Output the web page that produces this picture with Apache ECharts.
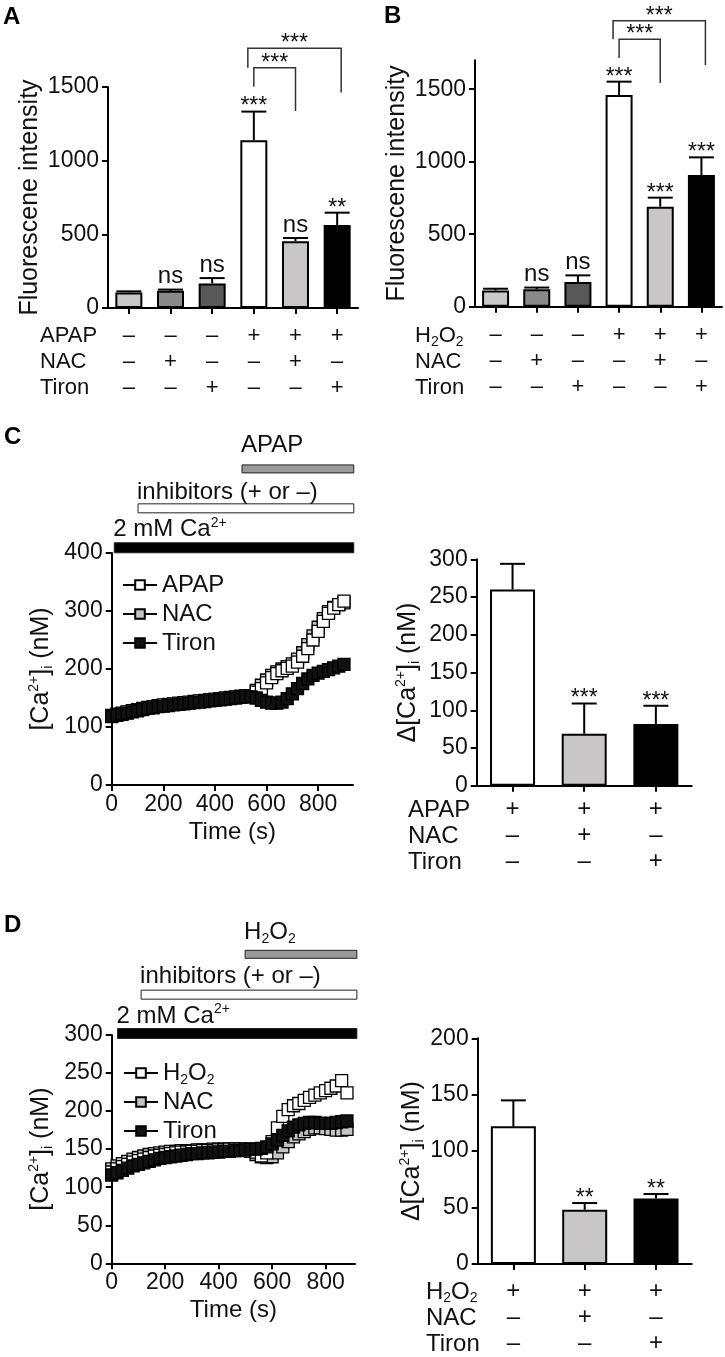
<!DOCTYPE html>
<html><head><meta charset="utf-8">
<script src="https://cdn.jsdelivr.net/npm/echarts@6/dist/echarts.min.js"></script>
<style>html,body{margin:0;padding:0;background:#fff}#c{width:725px;height:1357px}</style>
</head><body><div id="c"></div>
<script>
// ---------------- DATA ----------------
const catsAB = ['1','2','3','4','5','6'];
const aMeans = [105, 117, 167, 1138, 453, 563];
const aErrs  = [8, 8, 36, 195, 22, 84];
const aSig   = ['', 'ns', 'ns', '***', 'ns', '**'];
const bMeans = [112, 120, 170, 1460, 690, 908];
const bErrs  = [12, 12, 46, 92, 62, 122];
const bSig   = ['', 'ns', 'ns', '***', '***', '***'];
const rowDrug6  = ['–','–','–','+','+','+'];
const rowNAC6   = ['–','+','–','–','+','–'];
const rowTiron6 = ['–','–','+','–','–','+'];
// [fromBar, toBar, topValue, leftLegEnd, rightLegEnd]
const aBrackets = [[3,5,1763,1631,1462],[3,4,1631,1502,1337]];
const aBracketSig = ['***','***'];
const bBrackets = [[3,5,1972,1844,1667],[3,4,1844,1715,1543]];
const bBracketSig = ['***','***'];
const fluorTicks = [0,500,1000,1500];

const timeC = [0,20,40,60,80,100,120,140,160,180,200,220,240,260,280,300,320,340,360,380,400,420,440,460,480,500,520,540,560,580,600,620,640,660,680,700,720,740,760,780,800,820,840,860,880,900];
const apapC = [120,122,124,126,128,130,132,134,135,137,138,139,140,141,142,143,144,145,146,147,148,149,150,151,152,153,154,154,160,166,176,185,192,197,201,205,212,222,235,250,265,282,296,305,311,317];
const nacC  = [119,121,123,125,127,129,131,133,134,136,137,138,139,140,141,142,143,144,145,146,147,148,149,150,151,152,153,153,163,172,181,189,195,200,204,209,217,228,242,257,272,287,299,306,311,314];
const tironC= [118,120,122,124,126,128,130,132,133,135,136,137,138,139,140,141,142,143,144,145,146,147,148,149,150,151,152,152,150,146,143,141,141,143,149,157,166,175,183,189,193,196,199,202,205,208];
const timeTicks = [0,200,400,600,800];

const timeD = [0,20,40,60,80,100,120,140,160,180,200,220,240,260,280,300,320,340,360,380,400,420,440,460,480,500,520,540,560,580,600,620,640,660,680,700,720,740,760,780,800,820,840,860,880];
const h2o2D = [120,124,127,130,133,135,137,139,141,142,143,144,145,146,146,147,147,148,148,148,149,149,150,150,150,150,150,146,141,145,160,178,193,202,207,210,214,218,221,224,227,230,233,240,224];
const nacD  = [124,128,131,134,137,139,141,143,144,145,146,147,147,148,148,148,149,149,149,150,150,150,150,150,150,149,147,143,140,139,140,145,153,160,166,170,173,176,178,178,177,176,175,175,176];
const tironD= [116,119,122,125,128,130,132,134,136,138,139,140,141,142,143,144,144,145,145,146,146,147,147,148,148,149,150,150,151,153,157,162,168,174,179,182,184,185,185,184,184,184,185,186,187];

// condition bars above traces: [start s, end s, level, label level]
const cCond = [[10,938,409,440],[102,938,477,505],[505,938,545,586]];
const cCondLabels = ['2 mM Ca{sup|2+}','inhibitors (+ or –)','APAP'];
const dCond = [[22,917,302,325],[110,917,353,377],[499,917,406,435]];
const dCondLabels = ['2 mM Ca{sup|2+}','inhibitors (+ or –)','H{sub|2}O{sub|2}'];

const cats3 = ['1','2','3'];
const cMeans = [260, 69, 82];
const cErrs  = [34, 40, 24];
const cSig   = ['', '***', '***'];
const dMeans = [122, 48, 58];
const dErrs  = [23, 6, 4];
const dSig   = ['', '**', '**'];
const rowDrug3  = ['+','+','+'];
const rowNAC3   = ['–','+','–'];
const rowTiron3 = ['–','–','+'];

// ---------------- STYLE ----------------
const FONT = '"Liberation Sans", Arial, Helvetica, sans-serif';
const INK = '#111';
const colors6 = ['#c9c9c9','#8a8a8a','#585858','#ffffff','#c8c6c6','#000000'];
const colors3 = ['#ffffff','#c8c6c6','#000000'];
const condFills = ['#000000','#ffffff','#9a9a9a'];
const condHeights = [10, 9, 8];
const richSS = {
  sup:{fontSize:14, lineHeight:14, verticalAlign:'top', fontFamily:FONT, color:INK},
  sub:{fontSize:14, lineHeight:14, verticalAlign:'bottom', fontFamily:FONT, color:INK}
};

const chart = echarts.init(document.getElementById('c'), null, {renderer:'canvas'});

const axLine = {show:true, onZero:false, lineStyle:{color:'#000', width:2}};
const axTick = {show:true, length:6, lineStyle:{color:'#000', width:2}};

function catX(gi, cats, rows, fs, lh, margin) {
  return {type:'category', gridIndex:gi, data:cats, axisLine:axLine,
    axisTick:Object.assign({}, axTick, {alignWithLabel:true}),
    axisLabel:{interval:0, margin:margin, fontSize:fs, lineHeight:lh, color:INK, fontFamily:FONT,
      formatter:(v,i)=>rows.map(r=>r[i]).join('\n')},
    splitLine:{show:false}};
}
function valY(gi, min, max, interval, ticks, name, gap, fs) {
  const y = {type:'value', gridIndex:gi, min, max, interval, axisLine:axLine, axisTick:Object.assign({}, axTick),
    axisLabel:{margin:9, fontSize:fs, color:INK, fontFamily:FONT, formatter:v=>String(v)},
    splitLine:{show:false}, name:name, nameLocation:'middle', nameRotate:90, nameGap:gap,
    nameTextStyle:{fontSize:25, lineHeight:28, color:INK, fontFamily:FONT, rich:richSS}};
  if (ticks) { y.axisLabel.customValues = ticks; y.axisTick.customValues = ticks; }
  return y;
}
function valX(gi, max, ticks) {
  return {type:'value', gridIndex:gi, min:0, max, interval:200, axisLine:axLine,
    axisTick:Object.assign({}, axTick, {customValues:ticks}),
    axisLabel:{customValues:ticks, margin:8, fontSize:23, color:INK, fontFamily:FONT,
      formatter:v=>(ticks.indexOf(v)>=0? String(v):'')},
    splitLine:{show:false}, name:'Time (s)', nameLocation:'middle', nameGap:35,
    nameTextStyle:{fontSize:24, color:INK, fontFamily:FONT}};
}

function makeErr(sigs, capW) {
  return function(params, api) {
    const i = api.value(0), m = api.value(1), e = api.value(2);
    const p0 = api.coord([i, m]), p1 = api.coord([i, m + e]);
    const ch = [
      {type:'line', shape:{x1:p0[0], y1:p0[1], x2:p1[0], y2:p1[1]}, style:{stroke:'#000', lineWidth:2}},
      {type:'line', shape:{x1:p1[0]-capW/2, y1:p1[1], x2:p1[0]+capW/2, y2:p1[1]}, style:{stroke:'#000', lineWidth:2}}
    ];
    const s = sigs[params.dataIndex];
    if (s) {
      const star = s.indexOf('*') >= 0;
      ch.push({type:'text', style:{text:s, x:p1[0], y: star ? p1[1]+7 : p1[1]-1,
        align:'center', verticalAlign:'bottom', fontSize: star?23:24, fontFamily:FONT, fill:INK}});
    }
    return {type:'group', children:ch};
  };
}
function makeBracket(sigs) {
  return function(params, api) {
    const f = api.value(0), t = api.value(1), top = api.value(2), le = api.value(3), re = api.value(4);
    const outer = (t - f) > 1;
    const pL = api.coord([f, top]), pR = api.coord([t, top]);
    const yL = api.coord([f, le])[1], yR = api.coord([t, re])[1];
    const xL = pL[0] + (outer ? -6 : 0), xR = pR[0] + (outer ? 4 : 0);
    return {type:'group', children:[
      {type:'polyline', shape:{points:[[xL,yL],[xL,pL[1]],[xR,pL[1]],[xR,yR]]}, style:{stroke:'#333', lineWidth:1.5, fill:null}},
      {type:'text', style:{text:sigs[params.dataIndex], x:(xL+xR)/2, y:pL[1]+7, align:'center', verticalAlign:'bottom', fontSize:23, fontFamily:FONT, fill:INK}}
    ]};
  };
}
function makeCond(labels) {
  return function(params, api) {
    const k = params.dataIndex;
    const s = api.value(0), e = api.value(1), lv = api.value(2), tl = api.value(3);
    const p0 = api.coord([s, lv]), p1 = api.coord([e, lv]);
    const ty = api.coord([s, tl])[1];
    const h = condHeights[k];
    return {type:'group', children:[
      {type:'rect', shape:{x:p0[0], y:p0[1]-h/2, width:p1[0]-p0[0], height:h}, style:{fill:condFills[k], stroke:'#222', lineWidth:1}},
      {type:'text', style:{text:labels[k], x:p0[0]-1, y:ty, align:'left', verticalAlign:'middle', fontSize:24, lineHeight:28, fontFamily:FONT, fill:INK, rich:richSS}}
    ]};
  };
}
function barSeries(xi, means, cols, w) {
  return {type:'bar', xAxisIndex:xi, yAxisIndex:xi, barWidth:w, z:2,
    data:means.map((m,i)=>({value:m, itemStyle:{color:cols[i], borderColor:'#000', borderWidth:2}}))};
}
function errSeries(xi, means, errs, sigs) {
  return {type:'custom', xAxisIndex:xi, yAxisIndex:xi, z:3, renderItem:makeErr(sigs, 25),
    data:means.map((m,i)=>[i, m, errs[i]])};
}
function lineSeries(name, xi, times, vals, fill, z) {
  return {type:'line', name, xAxisIndex:xi, yAxisIndex:xi, z, symbol:'rect', symbolSize:12, showSymbol:true,
    data:times.map((t,i)=>[t, vals[i]]),
    itemStyle:{color:fill, borderColor:'#000', borderWidth:1.3},
    lineStyle:{color:'#000', width:2}};
}

const option = {
  animation:false,
  textStyle:{fontFamily:FONT},
  grid:[
    {left:108, top:87, width:250, height:221},
    {left:475, top:60.2, width:247, height:246.5},
    {left:111.7, top:553, width:241.3, height:232},
    {left:476.7, top:559.3, width:215, height:226.5},
    {left:111.7, top:1035, width:243.3, height:228.3},
    {left:477.7, top:1038.3, width:214, height:225.7}
  ],
  xAxis:[
    catX(0, catsAB, [rowDrug6,rowNAC6,rowTiron6], 22, 26, 15),
    catX(1, catsAB, [rowDrug6,rowNAC6,rowTiron6], 22, 26, 15),
    valX(2, 935, timeTicks),
    catX(3, cats3, [rowDrug3,rowNAC3,rowTiron3], 24, 26, 11),
    valX(4, 910, timeTicks),
    catX(5, cats3, [rowDrug3,rowNAC3,rowTiron3], 24, 26, 14)
  ],
  yAxis:[
    valY(0, 0, 1500, 500, null, 'Fluorescene intensity', 54, 23),
    valY(1, 0, 1700, 500, fluorTicks, 'Fluorescene intensity', 53, 23),
    valY(2, 0, 400, 100, null, '[Ca{sup|2+}]{sub|i} (nM)', 57, 23),
    valY(3, 0, 300, 50, null, 'Δ[Ca{sup|2+}]{sub|i} (nM)', 55, 23),
    valY(4, 0, 300, 50, null, '[Ca{sup|2+}]{sub|i} (nM)', 57, 23),
    valY(5, 0, 200, 50, null, 'Δ[Ca{sup|2+}]{sub|i} (nM)', 50, 23)
  ],
  legend:[
    {orient:'vertical', left:117, top:566, itemWidth:34, itemHeight:12, itemGap:1,
      data:['APAP','NAC','Tiron'], selectedMode:false,
      textStyle:{fontSize:24, lineHeight:28, color:INK, fontFamily:FONT}},
    {orient:'vertical', left:118, top:1054, itemWidth:34, itemHeight:12, itemGap:1,
      data:['H2O2','NAC','Tiron'], selectedMode:false,
      formatter:n=>n==='H2O2'?'H{sub|2}O{sub|2}':n,
      textStyle:{fontSize:24, lineHeight:28, color:INK, fontFamily:FONT, rich:richSS}}
  ],
  series:[
    barSeries(0, aMeans, colors6, 27), errSeries(0, aMeans, aErrs, aSig),
    {type:'custom', xAxisIndex:0, yAxisIndex:0, z:4, renderItem:makeBracket(aBracketSig), data:aBrackets},
    barSeries(1, bMeans, colors6, 27), errSeries(1, bMeans, bErrs, bSig),
    {type:'custom', xAxisIndex:1, yAxisIndex:1, z:4, renderItem:makeBracket(bBracketSig), data:bBrackets},
    lineSeries('NAC', 2, timeC, nacC, '#c4c4c4', 2),
    lineSeries('APAP', 2, timeC, apapC, '#ffffff', 3),
    lineSeries('Tiron', 2, timeC, tironC, '#111111', 4),
    {type:'custom', xAxisIndex:2, yAxisIndex:2, z:5, renderItem:makeCond(cCondLabels), data:cCond},
    barSeries(3, cMeans, colors3, 45), errSeries(3, cMeans, cErrs, cSig),
    lineSeries('NAC', 4, timeD, nacD, '#c4c4c4', 2),
    lineSeries('H2O2', 4, timeD, h2o2D, '#ffffff', 3),
    lineSeries('Tiron', 4, timeD, tironD, '#111111', 4),
    {type:'custom', xAxisIndex:4, yAxisIndex:4, z:5, renderItem:makeCond(dCondLabels), data:dCond},
    barSeries(5, dMeans, colors3, 45), errSeries(5, dMeans, dErrs, dSig)
  ],
  graphic:[
    {type:'text', left:3, top:5, style:{text:'A', fontSize:24, fontWeight:'bold', fontFamily:FONT, fill:'#000'}},
    {type:'text', left:384, top:4, style:{text:'B', fontSize:24, fontWeight:'bold', fontFamily:FONT, fill:'#000'}},
    {type:'text', left:4, top:425, style:{text:'C', fontSize:24, fontWeight:'bold', fontFamily:FONT, fill:'#000'}},
    {type:'text', left:4, top:913, style:{text:'D', fontSize:24, fontWeight:'bold', fontFamily:FONT, fill:'#000'}},
    {type:'text', left:40, top:323, style:{text:'APAP\nNAC\nTiron', fontSize:22, lineHeight:26, fontFamily:FONT, fill:INK}},
    {type:'text', left:415, top:323, style:{text:'H{sub|2}O{sub|2}\nNAC\nTiron', fontSize:22, lineHeight:26, fontFamily:FONT, fill:INK, rich:{sub:{fontSize:14, lineHeight:14, verticalAlign:'bottom', fontFamily:FONT, fill:INK}}}},
    {type:'text', left:408, top:797, style:{text:'APAP\nNAC\nTiron', fontSize:24, lineHeight:26, fontFamily:FONT, fill:INK}},
    {type:'text', left:426, top:1279, style:{text:'H{sub|2}O{sub|2}\nNAC\nTiron', fontSize:24, lineHeight:26, fontFamily:FONT, fill:INK, rich:{sub:{fontSize:14, lineHeight:14, verticalAlign:'bottom', fontFamily:FONT, fill:INK}}}}
  ]
};
chart.setOption(option);
</script></body></html>
